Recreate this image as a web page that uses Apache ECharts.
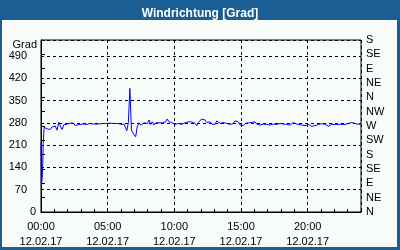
<!DOCTYPE html>
<html>
<head>
<meta charset="utf-8">
<script src="https://cdn.jsdelivr.net/npm/echarts@6/dist/echarts.min.js"></script>
<style>
html,body{margin:0;padding:0;background:#1b5e94;}
#wrap{position:relative;width:400px;height:250px;background:#1b5e94;}
#bg{position:absolute;left:2px;top:20px;width:395px;height:227px;background:#f8fcf8;}
#chart{position:absolute;left:0;top:0;width:400px;height:250px;}
</style>
</head>
<body>
<div id="wrap"><div id="bg"></div><div id="chart"></div></div>
<script>
// time in minutes after 00:00 on 12.02.17
var minutes = [0,2,7,10,14,19,28,35,42,50,57,64,72,80,87,95,102,109,117,125,132,140,147,154,162,171,180,194,207,219,230,242,252,266,279,294,303,315,326,341,351,363,374,378,386,393,400,407,415,426,433,441,449,456,464,472,479,486,494,501,508,516,524,531,540,547,553,561,568,576,
580,588,595,603,611,618,626,633,640,648,656,663,671,678,685,693,701,708,716,723,730,738,746,753,761,768,775,783,791,798,806,813,820,828,836,843,
851,865,873,881,888,896,903,910,918,926,933,941,948,955,963,971,978,986,1000,1016,1031,1045,1061,1076,1090,1106,1113,1121,1128,1135,1143,1151,
1158,1173,1188,1196,1203,1211,1218,1225,1233,1241,1248,1256,1263,1270,1278,1286,1293,1301,1308,1323,1338,1353,1368,1376,1383,1391,1398,1405,1413,1421,1428,1436];
// wind direction in degrees
var direction = [218,78,125,215,266,264,261,267,259,267,264,270,257,282,270,259,273,270,276,271,279,273,279,271,276,275,275,276,275,278,277,276,276,277,278,278,281,279,278,278,277,275,276,273,255,280,388,257,247,236,268,280,273,268,280,276,278,289,275,283,273,280,278,280,277,280,276,283,292,283,
278,281,278,275,281,278,280,275,278,280,281,283,278,283,286,278,271,281,287,292,287,289,281,278,283,276,278,275,286,281,278,275,281,286,278,281,
275,278,286,281,283,273,278,271,278,276,280,278,281,278,283,276,273,273,276,275,273,276,275,278,276,275,271,273,278,281,278,276,
275,273,271,268,275,271,269,273,271,275,275,273,277,278,276,271,269,273,275,275,275,275,275,271,278,281,281,283,278,276,275,276];
var dateLabel = '12.02.17';
var compass = ['N','NE','E','SE','S','SW','W','NW','N','NE','E','SE','S'];
var leftTicks = [0,70,140,210,280,350,420,490];

var font = 'Liberation Sans, Arial, sans-serif';
var data = minutes.map(function(m,i){return [m, direction[i]];});
var chart = echarts.init(document.getElementById('chart'), null, {renderer:'canvas'});
function pad(n){return (n<10?'0':'')+n;}
chart.setOption({
  animation:false,
  backgroundColor:'transparent',
  title:{text:'Windrichtung [Grad]', left:'center', top:3,
    textStyle:{color:'#ffffff', fontWeight:'bold', fontSize:12, fontFamily:font}},
  grid:{left:41, right:39, top:40, bottom:38, show:true, borderColor:'#000', borderWidth:1, backgroundColor:'transparent'},
  xAxis:[{
    type:'value', min:0, max:1440, interval:300, position:'bottom',
    axisLine:{show:true, lineStyle:{color:'#000', width:1}},
    axisTick:{show:false},
    splitLine:{show:true, lineStyle:{color:'#000', type:[3,3], width:1}},
    axisLabel:{show:true, showMaxLabel:false, color:'#000', fontSize:11, fontFamily:font, margin:7, lineHeight:15,
      formatter:function(v){return pad(Math.round(v/60))+':00\n'+dateLabel;}}
  },{
    type:'value', min:0, max:1440, interval:60, position:'bottom', offset:0,
    axisLine:{show:false},
    axisTick:{show:true, inside:true, length:3, lineStyle:{color:'#000'}},
    splitLine:{show:false},
    axisLabel:{show:false}
  }],
  yAxis:[{
    type:'value', min:0, max:540, interval:70, position:'left',
    name:'Grad', nameLocation:'end', nameGap:-6,
    nameTextStyle:{color:'#000', fontSize:11, fontFamily:font, align:'right', verticalAlign:'middle', padding:[0,4,0,0]},
    axisLine:{show:true, lineStyle:{color:'#000', width:1}},
    axisTick:{show:false},
    splitLine:{show:true, lineStyle:{color:'#000', type:[3,3], width:1}},
    axisLabel:{show:true, showMaxLabel:false, margin:5, color:'#000', fontSize:11, fontFamily:font,
      formatter:function(v){ if(leftTicks.indexOf(v)<0) return ''; return v===0 ? '0' : '{p|'+v+'}'; },
      rich:{p:{padding:[0,9,0,0], fontSize:11, fontFamily:font, color:'#000'}}}
  },{
    type:'value', min:0, max:540, interval:45, position:'right',
    axisLine:{show:true, lineStyle:{color:'#000', width:1}},
    axisTick:{show:true, inside:false, length:4, lineStyle:{color:'#000'}},
    splitLine:{show:false},
    axisLabel:{show:true, showMaxLabel:true, margin:5, color:'#000', fontSize:11, fontFamily:font,
      formatter:function(v){return compass[Math.round(v/45)] || '';}}
  }],
  series:[{
    type:'line', xAxisIndex:0, yAxisIndex:0, data:data,
    showSymbol:false, symbol:'none',
    lineStyle:{color:'#0000ff', width:1},
    itemStyle:{color:'#0000ff'}
  }]
});
</script>
</body>
</html>
